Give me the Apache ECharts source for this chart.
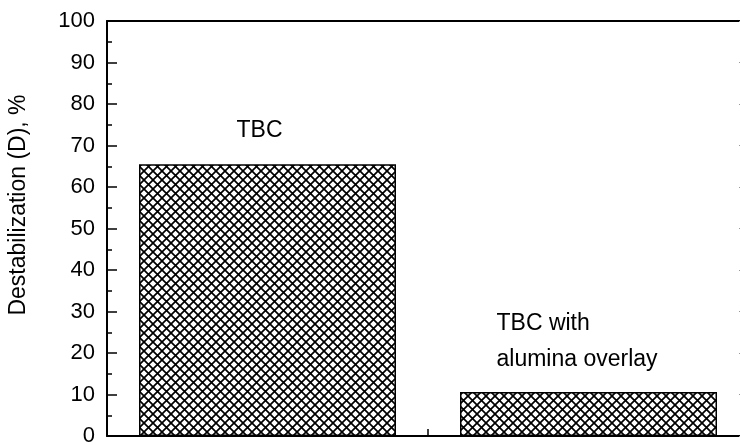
<!DOCTYPE html>
<html>
<head>
<meta charset="utf-8">
<script src="https://cdn.jsdelivr.net/npm/echarts@6/dist/echarts.min.js"></script>
<style>html,body{margin:0;padding:0;background:#fff;overflow:hidden;}#c{width:740px;height:445px;}</style>
</head>
<body>
<div id="c"></div>
<script>
var barPositions = [1, 3];
var barValues = [65.5, 10.6];
var barLabels = ['TBC', 'TBC with\nalumina overlay'];
var yAxisTitle = 'Destabilization (D), %';
var yMin = 0, yMax = 100, yStep = 10;
var xMin = 0, xMax = 4, xStep = 1;

function makeHatch() {
  var s = 9;
  var c = document.createElement('canvas');
  c.width = s; c.height = s;
  var g = c.getContext('2d');
  g.fillStyle = '#fff';
  g.fillRect(0, 0, s, s);
  g.strokeStyle = '#000';
  g.lineWidth = 1.7;
  g.beginPath();
  g.moveTo(-1, -1); g.lineTo(s + 1, s + 1);
  g.moveTo(s + 1, -1); g.lineTo(-1, s + 1);
  g.stroke();
  return c;
}
var hatch = { image: makeHatch(), repeat: 'repeat' };

var data = barPositions.map(function (p, i) {
  var lbl = i === 0
    ? { show: true, position: 'top', distance: 16, formatter: barLabels[i], align: 'center', offset: [-8, 0] }
    : { show: true, position: 'top', distance: 14, formatter: barLabels[i], align: 'left', offset: [-92, 0], lineHeight: 36 };
  return { value: [p, barValues[i]], label: lbl };
});

var chart = echarts.init(document.getElementById('c'), null, { renderer: 'canvas' });
var fontFam = 'Liberation Sans, Arial, sans-serif';
chart.setOption({
  animation: false,
  grid: { left: 107, top: 21, width: 642, bottom: 9, containLabel: false, outerBoundsMode: 'none' },
  xAxis: [{
    type: 'value', min: xMin, max: xMax, interval: xStep, position: 'bottom',
    axisLine: { show: true, lineStyle: { color: '#000', width: 2 } },
    axisTick: { show: true, inside: true, length: 7, lineStyle: { color: '#000', width: 1.5 } },
    axisLabel: { show: false }, splitLine: { show: false }
  }, {
    type: 'value', min: xMin, max: xMax, interval: xStep, position: 'top',
    axisLine: { show: true, onZero: false, lineStyle: { color: '#000', width: 2 } },
    axisTick: { show: false }, axisLabel: { show: false }, splitLine: { show: false }
  }],
  yAxis: [{
    type: 'value', min: yMin, max: yMax, interval: yStep, position: 'left',
    axisLine: { show: true, onZero: false, lineStyle: { color: '#000', width: 2 } },
    axisTick: { show: true, inside: true, length: 10, lineStyle: { color: '#000', width: 1.5 } },
    minorTick: { show: true, splitNumber: 2, length: 5, lineStyle: { color: '#000', width: 1.5 } },
    axisLabel: { show: true, color: '#000', fontSize: 22, fontFamily: fontFam, margin: 12 },
    splitLine: { show: false }
  }, {
    type: 'value', min: yMin, max: yMax, interval: yStep, position: 'right',
    axisLine: { show: true, onZero: false, lineStyle: { color: '#000', width: 2 } },
    axisTick: { show: true, inside: true, length: 10, lineStyle: { color: '#999', width: 1 } },
    axisLabel: { show: false }, splitLine: { show: false }
  }],
  series: [{
    type: 'bar',
    xAxisIndex: 0, yAxisIndex: 0,
    barWidth: 257,
    data: data,
    itemStyle: { color: hatch, borderColor: '#000', borderWidth: 1.5 },
    label: { color: '#000', fontSize: 23, fontFamily: fontFam, lineHeight: 36 }
  }],
  graphic: [{
    type: 'text',
    x: 19, y: 205, rotation: Math.PI / 2,
    style: { text: yAxisTitle, fill: '#000', font: '23px ' + fontFam, textAlign: 'center', textVerticalAlign: 'middle' }
  }]
});
</script>
</body>
</html>
